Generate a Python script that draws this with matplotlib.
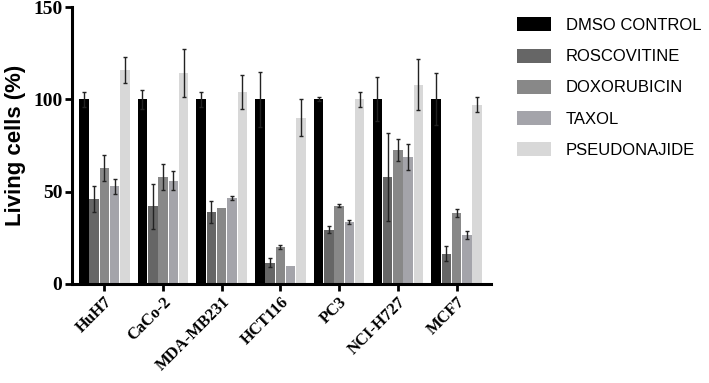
"""Living cells per cell line under each treatment (grouped bars with SD)."""

import matplotlib
matplotlib.use("Agg")
import matplotlib.pyplot as plt
import numpy as np

CELL_LINES = ["HuH7", "CaCo-2", "MDA-MB231", "HCT116", "PC3", "NCI-H727", "MCF7"]
TREATMENTS = ["DMSO CONTROL", "ROSCOVITINE", "DOXORUBICIN", "TAXOL", "PSEUDONAJIDE"]
COLORS = ["#000000", "#666666", "#888888", "#a4a4aa", "#d8d8d8"]

# mean values (%), one list per treatment, in CELL_LINES order
dmso = [100, 100, 100, 100, 100, 100, 100]
roscovitine = [46, 42, 39, 11.5, 29.5, 58, 16.5]
doxorubicin = [63, 58, 41, 20, 42.5, 72.5, 38.5]
taxol = [53, 56, 46.5, 10, 33.5, 69, 26.5]
pseudonajide = [116, 114, 104, 90, 100, 108, 97]

# error bars (SD)
dmso_err = [4, 5, 4, 15, 1, 12, 14]
roscovitine_err = [7, 12, 6, 2.5, 2, 24, 4]
doxorubicin_err = [7, 7, 0, 1.2, 1, 6, 2]
taxol_err = [4, 5, 1.2, 0, 1, 7, 2]
pseudonajide_err = [7, 13, 9, 10, 4, 14, 4]

VALUES = [dmso, roscovitine, doxorubicin, taxol, pseudonajide]
ERRORS = [dmso_err, roscovitine_err, doxorubicin_err, taxol_err, pseudonajide_err]

fig = plt.figure(figsize=(7.09, 3.83), dpi=100)
ax = fig.add_axes([0.1016, 0.2585, 0.5904, 0.7232])

x = np.arange(len(CELL_LINES))
pitch = 0.175
width = 0.162
for i, (name, vals, errs, col) in enumerate(zip(TREATMENTS, VALUES, ERRORS, COLORS)):
    pos = x + (i - 2) * pitch
    ax.bar(pos, vals, width=width, color=col, label=name, zorder=2)
    errs = np.array(errs, dtype=float)
    mask = errs > 0
    ax.errorbar(pos[mask], np.array(vals)[mask], yerr=errs[mask], fmt="none",
                ecolor="#222222", elinewidth=1.0, capsize=1.6, capthick=1.0, zorder=3)

ax.set_xlim(-0.55, 6.58)
ax.set_ylim(0, 150)
ax.set_yticks([0, 50, 100, 150])
ax.set_xticks(x)
ax.set_xticklabels(CELL_LINES, rotation=45, ha="right", rotation_mode="anchor",
                   family="Liberation Serif", fontweight="bold", fontsize=12)
for lab in ax.get_yticklabels():
    lab.set_family("Liberation Serif")
    lab.set_fontweight("bold")
    lab.set_fontsize(14)
ax.tick_params(axis="both", direction="out", length=5, width=2, pad=2)

for spine in ["top", "right"]:
    ax.spines[spine].set_visible(False)
for spine in ["left", "bottom"]:
    ax.spines[spine].set_linewidth(2.2)

ax.set_ylabel("Living cells (%)", family="Liberation Sans", fontweight="bold",
              fontsize=16, labelpad=5)

fig.legend(loc="upper left", bbox_to_anchor=(0.705, 1.0), frameon=False,
           prop={"family": "Liberation Sans", "size": 12},
           handlelength=2.0, handleheight=0.9, handletextpad=0.9,
           labelspacing=0.93, borderpad=0.55)

fig.savefig("out.png", dpi=100)
